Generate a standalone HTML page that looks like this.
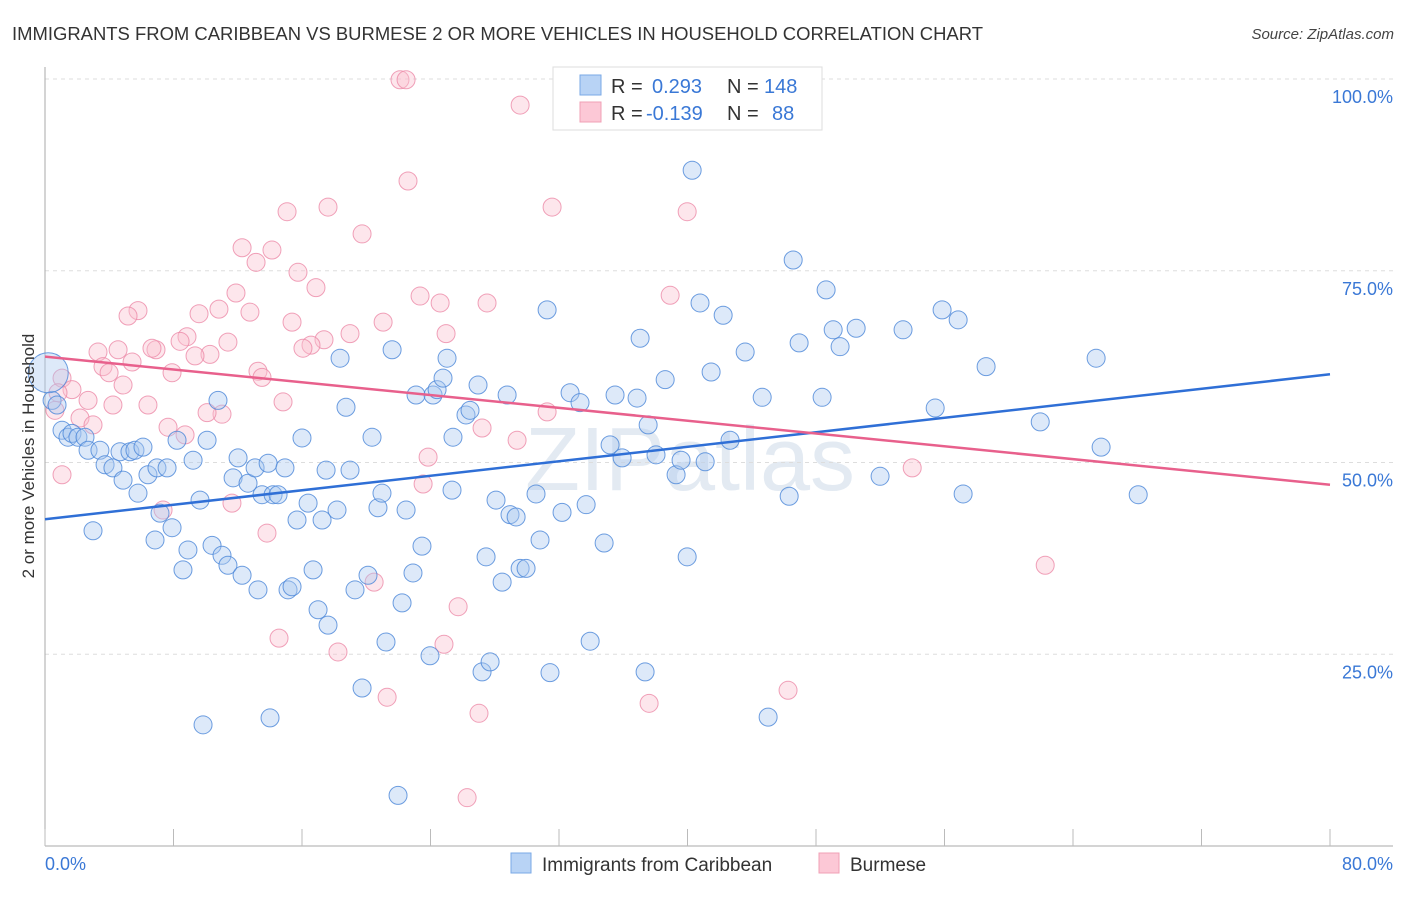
<!DOCTYPE html>
<html><head><meta charset="utf-8"><style>
body{margin:0;background:#fff;font-family:"Liberation Sans",sans-serif;}
svg text{font-family:"Liberation Sans",sans-serif;}
</style></head><body>
<svg id="chart" width="1406" height="892" viewBox="0 0 1406 892" xmlns="http://www.w3.org/2000/svg">
<text x="12" y="40" font-size="18" fill="#333" textLength="971" lengthAdjust="spacingAndGlyphs">IMMIGRANTS FROM CARIBBEAN VS BURMESE 2 OR MORE VEHICLES IN HOUSEHOLD CORRELATION CHART</text>
<text x="1394" y="39" font-size="15" fill="#444" font-style="italic" text-anchor="end">Source: ZipAtlas.com</text>
<text x="690" y="490" font-size="90" fill="#dde6f0" text-anchor="middle" font-family="Liberation Serif" opacity="0.8">ZIPatlas</text>
<g id="grid"></g>
<g id="axes"></g>
<g id="pts-pink"></g>
<g id="pts-blue"></g>
<g id="trends"></g>
<text transform="translate(34,456) rotate(-90)" font-size="17" fill="#333" text-anchor="middle">2 or more Vehicles in Household</text>
<g>
<rect x="553" y="67" width="269" height="63" fill="#fff" stroke="#ddd"/>
<rect x="580" y="75" width="21" height="20" fill="#b8d3f5" stroke="#7aa8e6"/>
<rect x="580" y="102" width="21" height="20" fill="#fcc8d6" stroke="#f0a0b6"/>
<text x="611" y="93" font-size="20" fill="#333">R = </text><text x="652" y="93" font-size="20" fill="#3a78d6">0.293</text>
<text x="727" y="93" font-size="20" fill="#333">N = </text><text x="764" y="93" font-size="20" fill="#3a78d6">148</text>
<text x="611" y="120" font-size="20" fill="#333">R = </text><text x="646" y="120" font-size="20" fill="#3a78d6">-0.139</text>
<text x="727" y="120" font-size="20" fill="#333">N = </text><text x="772" y="120" font-size="20" fill="#3a78d6">88</text>
</g>
<g>
<rect x="511" y="853" width="20" height="20" fill="#b8d3f5" stroke="#7aa8e6"/>
<text x="542" y="871" font-size="19" fill="#333">Immigrants from Caribbean</text>
<rect x="819" y="853" width="20" height="20" fill="#fcc8d6" stroke="#f0a0b6"/>
<text x="850" y="871" font-size="19" fill="#333">Burmese</text>
</g>
</svg>
<script>
const blueX=[0.44,0.75,1.06,1.43,1.68,2.05,2.49,2.68,3.42,3.74,4.23,4.67,4.86,5.29,5.60,6.10,5.79,6.41,6.97,7.60,7.16,7.91,6.85,8.22,8.59,8.90,9.22,9.65,10.09,10.40,10.77,11.02,11.39,11.71,12.02,12.27,12.64,13.08,13.26,13.51,13.89,14.20,14.01,14.51,14.94,15.13,15.38,15.69,16.00,16.38,16.69,17.00,17.25,17.62,17.50,18.18,18.37,18.74,18.99,19.30,19.74,20.11,20.36,20.73,20.98,21.23,21.61,22.23,22.48,22.91,23.10,23.47,23.97,24.16,24.41,24.78,25.03,25.40,25.34,26.21,26.46,26.96,27.21,27.46,27.71,28.08,28.46,28.77,28.95,29.33,29.58,29.95,30.82,31.26,30.57,31.44,32.19,32.69,33.31,33.69,33.94,34.81,35.18,35.49,35.93,36.86,37.05,37.36,37.55,38.04,38.61,39.29,39.60,39.98,40.29,40.78,41.10,41.47,42.22,42.65,43.59,44.65,45.02,46.33,46.58,46.95,48.38,48.63,49.07,49.50,50.50,51.99,53.42,55.42,55.85,56.85,57.16,58.59,61.96,65.44,65.75,68.06,21.98,9.84,2.99];
const blueY=[58.1,57.5,54.2,53.3,53.8,53.3,53.3,51.6,51.6,49.7,49.3,51.4,47.7,51.4,51.6,52.0,46.0,48.4,49.3,49.3,43.4,41.5,39.9,52.9,36.0,38.6,50.3,45.1,52.9,39.2,58.1,37.9,36.6,48.0,50.6,35.3,47.3,49.3,33.4,45.8,49.9,45.8,16.7,45.8,49.3,33.4,33.8,42.5,53.2,44.7,36.0,30.8,42.5,28.8,49.0,43.8,63.6,57.2,49.0,33.4,20.6,35.3,53.3,44.1,46.0,26.6,64.7,31.7,43.8,35.6,58.8,39.1,24.8,58.8,59.5,61.0,63.6,53.3,46.4,56.2,56.8,60.1,22.7,37.7,24.0,45.1,34.4,58.8,43.2,42.9,36.2,36.2,39.9,69.9,45.9,22.6,43.5,59.1,57.8,44.5,26.7,39.5,52.3,58.8,50.6,58.4,66.2,22.7,54.9,51.0,60.8,48.4,50.3,37.7,88.1,70.8,50.1,61.8,69.2,52.9,64.4,58.5,16.8,45.6,76.4,65.6,58.5,72.5,67.3,65.1,67.5,48.2,67.3,57.1,69.9,68.6,45.9,62.5,55.3,63.6,52.0,45.8,6.6,15.8,41.1];
const pinkX=[22.10,22.48,29.58,22.60,15.07,17.62,19.74,31.57,39.98,12.27,13.14,14.13,15.75,16.87,11.89,10.83,9.59,12.76,5.79,5.17,15.38,23.35,24.60,27.52,38.92,21.05,24.97,18.99,17.37,16.56,16.06,11.39,8.84,8.41,6.91,6.66,3.30,4.55,5.42,10.27,9.34,3.61,3.99,7.91,13.26,13.51,4.86,1.06,1.68,0.81,0.62,2.68,2.18,2.99,4.23,6.41,7.66,8.72,14.82,11.02,10.09,27.21,31.26,29.39,23.85,23.54,1.06,7.35,11.64,13.82,14.57,18.24,20.49,21.30,24.84,25.72,27.02,26.28,37.61,46.26,62.27,53.99,32.25];
const pinkY=[99.9,99.9,96.6,86.7,82.7,83.3,79.8,83.3,82.7,78.0,76.1,77.7,74.8,72.8,72.1,70.0,69.4,69.6,69.8,69.1,68.3,71.7,70.8,70.8,71.8,68.3,66.8,66.8,66.0,65.3,64.9,65.7,66.4,65.8,64.7,64.9,64.4,64.7,63.1,64.1,63.9,62.5,61.7,61.7,61.9,61.1,60.1,61.0,59.5,59.1,56.8,58.1,55.8,54.9,57.5,57.5,54.6,53.6,57.9,56.3,56.5,54.5,56.6,52.9,50.7,47.2,48.4,43.8,44.7,40.8,27.1,25.3,34.4,19.4,26.3,31.2,17.3,6.3,18.6,20.3,36.6,49.3,95.7];
const blueTrend=[42.6,61.5];
const pinkTrend=[63.8,47.1];
const yTicks=[25,50,75,100];
const xTicks=[0,8,16,24,32,40,48,56,64,72,80];
const NS='http://www.w3.org/2000/svg';
const sx=v=>45+v/80*1285;
const sy=v=>846-v*7.67;
function mk(tag,attrs,parent){const e=document.createElementNS(NS,tag);for(const k in attrs)e.setAttribute(k,attrs[k]);parent.appendChild(e);return e;}
const grid=document.getElementById('grid'),axes=document.getElementById('axes');
yTicks.forEach(t=>{
 const l=mk('line',{x1:45,x2:1393,y1:sy(t),y2:sy(t),stroke:'#ddd','stroke-dasharray':'4,4'},grid);
 
 
 const tx=mk('text',{x:1393,y:sy(t)+24,'font-size':18,fill:'#3a78d6','text-anchor':'end'},axes);
 tx.textContent=t.toFixed(1)+'%';
 
 
});
const yax=mk('line',{x1:45,x2:45,y1:67,y2:846,stroke:'#aaa'},axes);


const xax=mk('line',{x1:45,x2:1393,y1:846,y2:846,stroke:'#aaa'},axes);


xTicks.forEach(t=>{
 const l=mk('line',{x1:sx(t),x2:sx(t),y1:829,y2:846,stroke:'#bbb'},axes);
 
 
});
[[0,'start'],[80,'end']].forEach(([t,a])=>{
 const tx=mk('text',{x:t===0?45:1393,y:870,'font-size':18,fill:'#3a78d6','text-anchor':a},axes);
 tx.textContent=t.toFixed(1)+'%';
 
 
});
function pts(xs,ys,g,fill,stroke,name){
 xs.forEach((x,i)=>{
  const c=mk('circle',{cx:sx(x),cy:sy(ys[i]),r:9,fill:fill,'fill-opacity':0.4,stroke:stroke,'stroke-width':1,'stroke-opacity':0.8},g);
  
  
 });
}
pts(pinkX,pinkY,document.getElementById('pts-pink'),'#f9c0d0','#ec8aa8','burmese-point');
pts(blueX,blueY,document.getElementById('pts-blue'),'#a9c8f0','#4a86d8','caribbean-point');
const big=mk('circle',{cx:sx(0.2),cy:sy(61.7),r:20,fill:'#a9c8f0','fill-opacity':0.4,stroke:'#4a86d8','stroke-width':1,'stroke-opacity':0.8},document.getElementById('pts-blue'));


const tr=document.getElementById('trends');
const bl=mk('line',{x1:sx(0),y1:sy(blueTrend[0]),x2:sx(80),y2:sy(blueTrend[1]),stroke:'#2f6fd6','stroke-width':2.5},tr);


const pl=mk('line',{x1:sx(0),y1:sy(pinkTrend[0]),x2:sx(80),y2:sy(pinkTrend[1]),stroke:'#e8608c','stroke-width':2.5},tr);


</script>
</body></html>
